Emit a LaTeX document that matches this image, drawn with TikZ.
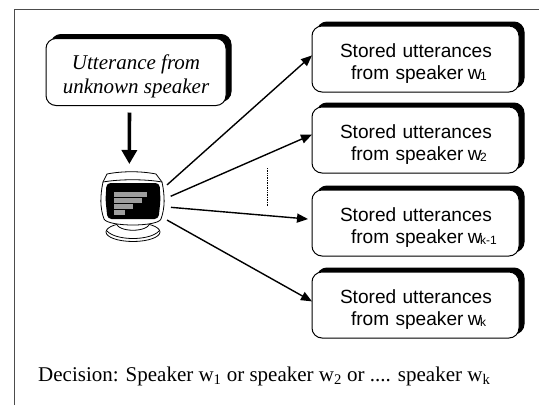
\documentclass[tikz,border=0pt]{standalone}
\usepackage{fontspec}
\setmainfont{Liberation Serif}
\newfontfamily\boxfont{Liberation Sans}
\usetikzlibrary{positioning,shadows,arrows.meta}
\newcommand{\subw}[1]{w\kern-1.5pt\raisebox{-1pt}{\fontsize{12pt}{12pt}\selectfont #1}}
\newcommand{\stored}[1]{\rule{0pt}{23pt}\hspace*{9.5pt}Stored utterances\\\hspace*{20.5pt}from speaker\kern-2pt\ \subw{#1}}
\tikzset{
    >={Triangle[length=11pt,width=9pt]},
    roundbox/.style={
        rectangle,
        rounded corners=10pt,
        draw=black,
        fill=white,
        line width=1pt,
        inner sep=0pt,
        outer sep=0pt,
        copy shadow={shadow xshift=5pt, shadow yshift=4pt, fill=black, draw=black}
    },
    storedbox/.style={
        roundbox,
        minimum width=207pt,
        minimum height=66pt,
        text width=170pt,
        align=left,
        font={\boxfont\fontsize{19.1pt}{22pt}\selectfont}
    },
    unknownbox/.style={
        roundbox,
        minimum width=180pt,
        minimum height=67pt,
        align=center,
        font={\itshape\fontsize{21pt}{24.5pt}\selectfont}
    },
    link/.style={->, line width=1.4pt},
    bigarrow/.style={-{Triangle[length=14pt,width=15pt]}, line width=3.6pt},
    screen bar/.style={fill=black!38, draw=none},
    monitor line/.style={draw=black, line width=0.8pt, fill=white},
}
\begin{document}
\begin{tikzpicture}[x=1pt, y=-1pt]
    \useasboundingbox (0,0) rectangle (539,405);

    % Frame
    \draw[black!70, line width=1pt] (14.5,405) -- (14.5,9.5) -- (539,9.5);

    % Boxes
    \node[unknownbox] (u) at (136,72) {\rule{0pt}{23pt}Utterance from\\unknown speaker};
    \node[storedbox] (s1) at (415.5,59) {\stored{1}};
    \node[storedbox, below=15pt of s1] (s2) {\stored{2}};
    \node[storedbox, below=17pt of s2] (s3) {\stored{k-1}};
    \node[storedbox, below=16pt of s3] (s4) {\stored{k}};

    % The computer is drawn by hand, the node only gives the arrows something to hold on to
    \node[minimum width=68pt, minimum height=70pt, inner sep=0pt, outer sep=0pt] (monitor) at (133,207) {};
    \draw[monitor line] (133,232) ellipse (27pt and 9.5pt);
    \draw[monitor line] (107,231) .. controls (116,241) and (150,241) .. (159,231);
    \draw[monitor line] (116,222) .. controls (116,233) and (150,233) .. (150,222);
    \draw[monitor line] (107,174) .. controls (122,171) and (141,171) .. (156,174)
        -- (162,182) .. controls (165,196) and (165,208) .. (161,219)
        .. controls (158,227) and (108,227) .. (104,219)
        .. controls (100,208) and (100,196) .. (103,182) -- cycle;
    \draw[monitor line] (103,182) .. controls (120,179) and (145,179) .. (162,182);
    \fill[black, rounded corners=4pt] (106.5,183) -- (159.5,183) -- (160.5,200) -- (158.5,219) -- (107.5,219) -- (105.5,200) -- cycle;
    \fill[screen bar] (114,192) rectangle (147,197);
    \fill[screen bar] (114,198) rectangle (142,203);
    \fill[screen bar] (114,204) rectangle (133,209);
    \fill[screen bar] (114,210) rectangle (125,215);

    % Arrows
    \draw[bigarrow, shorten <=7pt, shorten >=8pt] (u.259) -- (monitor.96);
    \draw[link] (monitor.33) -- (s1.178);
    \draw[link, shorten <=4pt] (monitor.15) -- (s2.177.5);
    \draw[link, shorten <=4pt, shorten >=4pt] (monitor.east) -- (s3.178);
    \draw[link] (monitor.-21) -- (s4.178);

    % Dots between the stored utterances
    \coordinate (d0) at (267,168);
    \coordinate (d1) at (267,206);
    \draw[densely dotted, line width=0.7pt] (d0) -- (d1);

    \node[anchor=base west, inner sep=0pt, font={\fontsize{21pt}{24pt}\selectfont}] (decision) at (38,381)
        {Decision: Speaker w\textsubscript{1} or speaker w\textsubscript{2} or .... speaker w\textsubscript{k}};
\end{tikzpicture}
\end{document}
